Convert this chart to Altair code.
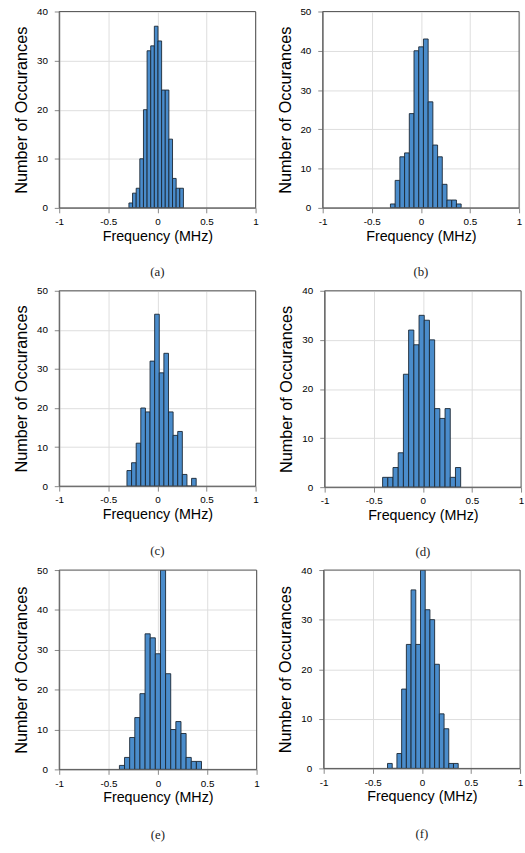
import altair as alt
import pandas as pd

# ---- data (counts per histogram bin) ----
panel_names = ["(a)", "(b)", "(c)", "(d)", "(e)", "(f)"]
y_max = [40, 50, 50, 40, 50, 40]

# first bin left edge (MHz) and bin width (MHz) of each histogram
bin_start = [-0.29, -0.31, -0.31, -0.41, -0.39, -0.35]
bin_width = [0.037, 0.048, 0.047, 0.053, 0.052, 0.048]

counts_a = [1, 3, 4, 10, 20, 32, 33, 37, 34, 24, 24, 14, 6, 4, 4]
counts_b = [1, 7, 13, 14, 24, 40, 41, 43, 27, 16, 13, 6, 2, 2, 1]
counts_c = [4, 6, 11, 20, 19, 32, 44, 29, 34, 19, 13, 14, 3, 0, 2]
counts_d = [2, 2, 4, 7, 23, 32, 29, 35, 34, 30, 16, 14, 16, 2, 4]
counts_e = [1, 3, 8, 13, 19, 34, 33, 29, 50, 24, 10, 12, 9, 3, 2, 2]
counts_f = [1, 0, 3, 16, 25, 36, 25, 40, 32, 30, 21, 11, 8, 1, 1]

all_counts = [counts_a, counts_b, counts_c, counts_d, counts_e, counts_f]

x_ticks = [-1, -0.5, 0, 0.5, 1]

BAR_FILL = "#4a8ccb"
BAR_EDGE = "#1a2633"
FRAME = "#5a5a5a"
GRID = "#e4e4e4"


def panel(i, width, height, cap_offset=24):
    cnts = all_counts[i]
    rows = []
    for k, c in enumerate(cnts):
        x0 = bin_start[i] + k * bin_width[i]
        rows.append({"x0": x0, "x1": x0 + bin_width[i], "base": 0, "count": c})
    df = pd.DataFrame(rows)
    ym = y_max[i]
    y_ticks = list(range(0, ym + 1, 10))
    xscale = alt.Scale(domain=[-1, 1], nice=False, zero=False)
    yscale = alt.Scale(domain=[0, ym], nice=False)
    x_axis = alt.Axis(
        values=x_ticks,
        labelExpr="'' + datum.value",
        title="Frequency (MHz)",
        titleFontSize=14.5,
        titleFontWeight="normal",
        labelPadding=4,
        titlePadding=3,
        labelFlush=False,
    )
    y_axis = alt.Axis(
        values=y_ticks,
        title="Number of Occurances",
        titleFontSize=16.5,
        titleFontWeight="normal",
        labelPadding=7,
        titlePadding=7,
        labelOverlap=False,
    )
    bars = (
        alt.Chart(df)
        .mark_rect(fill=BAR_FILL, stroke=BAR_EDGE, strokeWidth=0.9, clip=True)
        .encode(
            x=alt.X("x0:Q", scale=xscale, axis=x_axis),
            x2="x1:Q",
            y=alt.Y("count:Q", scale=yscale, axis=y_axis),
            y2="base:Q",
        )
    )
    frame = (
        alt.Chart(df)
        .mark_rect(fill="white", fillOpacity=0, stroke=FRAME, strokeWidth=1)
        .encode(
            x=alt.datum(-1, scale=xscale, axis=x_axis),
            x2=alt.datum(1),
            y=alt.datum(0, scale=yscale, axis=y_axis),
            y2=alt.datum(ym),
        )
        .transform_filter("datum.x0 == " + repr(bin_start[i]))
    )
    return alt.layer(bars, frame).properties(
        width=width,
        height=height,
        title=alt.TitleParams(
            panel_names[i],
            orient="bottom",
            font="Liberation Serif",
            fontSize=13,
            fontWeight="normal",
            color="#222222",
            offset=cap_offset,
        ),
    )


row1 = alt.hconcat(panel(0, 199, 199), panel(1, 199, 199), spacing=17)
row2 = alt.hconcat(panel(2, 199, 198), panel(3, 199, 199), spacing=19)
row3 = alt.hconcat(panel(4, 200, 202, 25), panel(5, 199, 201, 25), spacing=17)

chart = (
    alt.vconcat(row1, row2, row3, spacing=5)
    .properties(padding={"left": 13, "top": 0, "right": 0, "bottom": 0})
    .configure_axis(
        labelFont="Liberation Sans",
        titleFont="Liberation Sans",
        labelFontSize=10,
        labelColor="#404040",
        titleColor="#303030",
        titleFontWeight="normal",
        ticks=False,
        domain=False,
        gridColor=GRID,
        gridWidth=1,
    )
    .configure_view(strokeWidth=0)
    .configure(background="white")
)

chart.save("out.html", embed_options={"renderer": "svg", "actions": False})
